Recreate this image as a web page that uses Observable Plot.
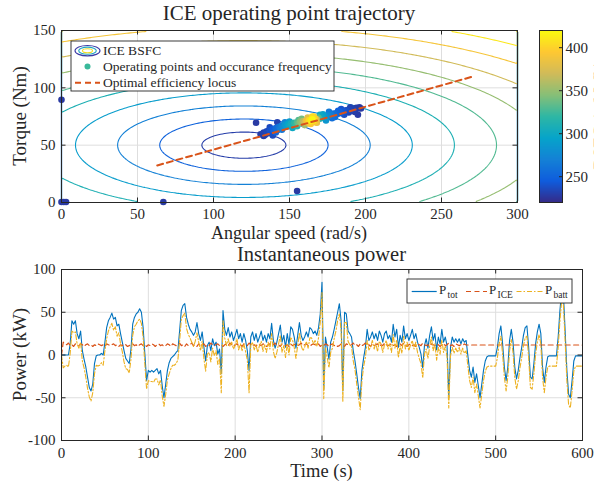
<!DOCTYPE html>
<html>
<head>
<meta charset="utf-8">
<script src="https://cdn.jsdelivr.net/npm/d3@7"></script>
<script src="https://cdn.jsdelivr.net/npm/@observablehq/plot@0.6"></script>
<style>
html, body { margin: 0; padding: 0; background: #fff; }
#wrap { position: relative; width: 594px; height: 487px; overflow: hidden; background: #fff; }
</style>
</head>
<body>
<div id="wrap"></div>
<script>
// ---------------- data ----------------
const speedTicks = [0, 50, 100, 150, 200, 250, 300];
const torqueTicks = [0, 50, 100, 150];
const cbarTicks = [250, 300, 350, 400];
const timeTicks = [0, 100, 200, 300, 400, 500, 600];
const powerTicks = [-100, -50, 0, 50, 100];

// parula colormap stops
const parula = ["#352a87", "#0f5cdd", "#1481d6", "#06a4ca", "#2eb7a4", "#87bf77", "#d1bb59", "#fec832", "#f9fb0e"];
const colorStops = [220, 245, 270, 295, 320, 345, 370, 395, 420];

const bsfcCenterSpeed = 120, bsfcCenterTorque = 50;
const bsfcMin = 210, bsfcStep = 20;
const bsfcSpeedRadius = 27.7, bsfcTorqueRadius = 11.4;
const bsfcLevels = [230, 250, 270, 290, 310, 330, 350, 370, 390, 410, 430];

// operating points (speed rad/s, torque Nm, occurrence colour value)
const opSpeed = [0, 0, 1.5, 3, 67, 155, 128, 142, 131, 133,
  134, 135, 136, 137, 138, 139, 140, 141, 142, 143,
  144, 145, 146, 147, 148, 149, 150, 151, 152, 153,
  154, 155, 156, 157, 158, 159, 160, 161, 162, 163,
  164, 165, 166, 167, 168, 169, 170, 171, 172, 173,
  174, 175, 176, 177, 178, 179, 180, 181, 182, 183,
  184, 185, 186, 187, 188, 189, 189, 190, 191, 192,
  193, 194, 195, 195, 196, 197, 145, 150, 155, 158,
  160, 162, 164, 166, 168, 170, 174, 176, 180, 184,
  139, 133, 137, 141, 147, 152, 156, 163, 165, 167,
  172, 178, 182, 186, 190, 193];
const opTorque = [89.5, 0.5, 0.5, 0.5, 0.5, 10, 69.5, 70, 59.5, 61,
  59, 62, 60.5, 63, 61, 64, 62.5, 65, 63, 66,
  64.5, 67, 65.5, 68, 66, 68.5, 67, 69, 67.5, 69.5,
  68, 70, 69, 70.5, 69.5, 71, 70, 71.5, 70.5, 72,
  71, 72.5, 71.5, 73, 72.5, 74, 73, 74.5, 74, 75.5,
  74.5, 76, 75.5, 77, 76, 77.5, 77, 78, 77.5, 79,
  78, 79.5, 79, 80.5, 79.5, 78.5, 81, 80, 81.5, 81,
  82, 82.5, 82, 76.5, 83, 82, 63.5, 70.5, 66.5, 73,
  67.5, 74, 68.5, 75, 69.5, 76.5, 71.5, 79, 74.5, 81.5,
  58.5, 58, 65.5, 61, 70, 65, 72, 69, 75, 70,
  77, 73.5, 80, 76.5, 83, 79];
const opFreq = [228, 228, 228, 228, 228, 228, 228, 232, 230, 232,
  230, 235, 234, 240, 238, 245, 250, 255, 258, 262,
  268, 272, 278, 285, 290, 295, 300, 305, 310, 318,
  322, 330, 338, 345, 352, 362, 372, 385, 395, 405,
  412, 418, 410, 395, 360, 330, 310, 300, 290, 285,
  280, 275, 270, 266, 262, 258, 255, 252, 250, 248,
  245, 242, 240, 238, 236, 232, 234, 233, 232, 231,
  230, 229, 229, 228, 228, 228, 262, 290, 315, 340,
  355, 380, 395, 400, 380, 300, 285, 265, 258, 240,
  236, 229, 236, 250, 272, 300, 330, 385, 405, 390,
  292, 258, 248, 238, 232, 229];

// optimal efficiency locus
const locusSpeed = [63, 271];
const locusTorque = [32.3, 110];

// instantaneous power, sampled every dt seconds (kW)
const dt = 2;
const pTot = [
  0, 0, 0, 0, 0, 13, 40, 36, 40, 25,
  19, 28, 5, -5, -14, -26, -38, -42, -34, -10,
  -1, 0, 0, 2, 0, 15, 32, 40, 44, 49,
  42, 44, 34, 36, 25, 15, 5, -4, -7, -10,
  7, 36, 44, 48, 50, 54, 50, 32, 1, -30,
  -18, -20, -18, -20, -18, -16, -22, -18, -36, -50,
  -34, -18, -9, -4, -2, 0, 3, 5, 28, 52,
  58, 60, 44, 36, 30, 27, 23, 27, 38, 25,
  17, 27, 9, -7, 11, 15, 5, 19, 11, 15,
  1, 7, -22, 52, 30, 23, 32, 21, 27, 17,
  23, 30, 19, 25, 15, 25, 17, 5, -18, 21,
  27, 17, 25, 15, 21, 28, 17, 23, 15, 25,
  19, 37, 17, 8, 15, 25, 35, 15, 23, 9,
  25, 12, 33, 30, 21, 8, 23, 38, 23, 17,
  21, 27, 21, 32, 30, 25, 28, 23, 32, 48,
  85, -40, 21, 9, -5, 15, 21, 30, 40, 50,
  60, 40, -42, 50, 48, 28, 25, 21, 5, -7,
  -22, -38, -51, -18, -3, 9, 30, 17, 21, 27,
  19, 25, 17, 28, 23, 15, 25, 28, 19, 23,
  15, 36, 21, 30, 9, 23, 15, 34, 19, 25,
  17, 23, 30, 19, 25, 15, 9, 1, -15, 11,
  19, 8, 23, 33, 17, 25, 6, 21, 13, 30,
  15, 21, 11, -50, 9, 21, 15, 19, 15, 19,
  13, 19, 15, 17, -1, -18, -26, -14, -32, -22,
  -36, -50, -34, -18, -7, -2, -1, -1, -1, -1,
  -1, 9, 25, 34, 13, -14, -30, -14, 17, 30,
  15, -14, -28, -18, -3, 9, 23, 32, 34, 9,
  -26, -28, -10, 13, 27, 36, 25, -14, -32, -14,
  -2, -1, -1, -1, -1, -1, 21, 52, 75, 71,
  28, -18, -46, -50, -30, -7, -1, -1, -1, -1,
  -1];
const pBatt = [
  0, -15, -13, -12, -14, 2, 28, 26, 27, 13,
  8, 15, -7, -15, -26, -39, -49, -54, -44, -22,
  -12, -13, -12, -9, -12, 5, 19, 28, 33, 37,
  29, 33, 22, 26, 13, 4, -8, -16, -17, -21,
  -5, 23, 33, 36, 40, 42, 37, 21, -11, -40,
  -30, -31, -31, -32, -28, -28, -35, -29, -48, -60,
  -46, -29, -22, -16, -12, -12, -10, -6, 16, 42,
  46, 49, 31, 24, 20, 15, 10, 16, 26, 15,
  5, 16, -4, -19, 1, 3, -8, 8, -1, 5,
  -11, -4, -44, 40, 20, 11, 19, 10, 15, 7,
  11, 19, 6, 13, 5, 13, 4, -6, -44, 11,
  15, 6, 12, 3, 11, 16, 4, 12, 3, 15,
  7, 25, 4, -4, 3, 13, 23, 3, 11, -3,
  13, 0, 20, 18, 9, -4, 11, 26, 11, 5,
  9, 16, 8, 20, 20, 13, 17, 10, 20, 38,
  73, -51, 8, -3, -15, 3, 8, 19, 28, 40,
  48, 29, -55, 38, 38, 16, 12, 10, -7, -17,
  -34, -49, -64, -30, -13, -3, 17, 6, 9, 17,
  7, 14, 4, 16, 13, 3, 12, 17, 7, 13,
  3, 24, 8, 18, -3, 11, 2, 22, 7, 15,
  5, 12, 17, 7, 15, 3, -4, -10, -27, 1,
  7, -4, 10, 21, 5, 13, -6, 9, 1, 18,
  3, 10, -2, -62, -1, 9, 2, 8, 3, 9,
  1, 8, 2, 5, -13, -30, -38, -26, -44, -34,
  -48, -62, -46, -30, -19, -14, -13, -13, -13, -13,
  -13, -3, 13, 22, 1, -26, -42, -26, 5, 18,
  3, -26, -40, -30, -15, -3, 11, 20, 22, -3,
  -38, -40, -22, 1, 15, 24, 13, -26, -44, -26,
  -14, -13, -13, -13, -13, -13, 9, 40, 63, 59,
  16, -30, -58, -62, -42, -19, -13, -13, -13, -13,
  -13];
// ICE power: jittery until 466 s, then held constant to 600 s
const iceTime = d3.range(0, 467, 2).concat([600]);
const pIce = [
  0, 15, 13, 12, 14, 11, 12, 10, 13, 12,
  11, 13, 12, 10, 12, 13, 11, 12, 10, 12,
  11, 13, 12, 11, 12, 10, 13, 12, 11, 12,
  13, 11, 12, 10, 12, 11, 13, 12, 10, 11,
  12, 13, 11, 12, 10, 12, 13, 11, 12, 10,
  12, 11, 13, 12, 10, 12, 13, 11, 12, 10,
  11, 13, 12, 10, 13, 12, 11, 12, 14, 11,
  12, 10, 13, 11, 12, 14, 11, 12, 10, 13,
  11, 12, 13, 10, 12, 11, 14, 12, 11, 12,
  13, 11, 12, 10, 12, 13, 11, 14, 12, 10,
  12, 13, 11, 12, 10, 13, 12, 11, 14, 12,
  11, 12, 10, 13, 12, 11, 13, 12, 10, 12,
  13, 11, 12, 14, 11, 12, 10, 13, 12, 11,
  12, 10, 13, 11, 12, 13, 11, 12, 14, 11,
  12, 13, 11, 10, 12, 13, 12, 11, 13, 10,
  12, 11, 13, 12, 10, 12, 13, 11, 12, 10,
  11, 13, 12, 10, 13, 12, 11, 12, 14, 11,
  12, 10, 13, 11, 12, 14, 11, 12, 10, 13,
  11, 12, 13, 10, 12, 11, 14, 12, 11, 12,
  13, 11, 12, 10, 12, 13, 11, 14, 12, 10,
  12, 13, 11, 12, 10, 13, 12, 11, 14, 12,
  11, 12, 10, 13, 12, 11, 13, 12, 10, 12,
  13, 11, 12, 14, 11, 12, 10, 13, 12, 11,
  12, 11, 13, 11.7,
  11.7];

// ---------------- styles ----------------
const FONT = "'Liberation Serif', 'Times New Roman', serif";
const AXIS = "#262626";
const GRID = "#dedede";
const colorOpts = {type: "linear", domain: colorStops, range: parula, clamp: true};
const bsfc = (x, y) => bsfcMin + bsfcStep * Math.hypot((x - bsfcCenterSpeed) / bsfcSpeedRadius, (y - bsfcCenterTorque) / bsfcTorqueRadius);
const baseStyle = {fontFamily: FONT, fontSize: "15px", color: AXIS, background: "transparent", overflow: "visible"};
const TICK = 4.5;

const wrap = document.getElementById("wrap");
function place(el, left, top) {
  el.style.position = "absolute";
  el.style.left = left + "px";
  el.style.top = top + "px";
  el.style.maxWidth = "none";
  wrap.appendChild(el);
}

// ---------------- top: operating point map ----------------
const topW = 594, topH = 240, tL = 61, tR = 77, tT = 30, tB = 38;
const tIW = topW - tL - tR, tIH = topH - tT - tB;
const ops = opSpeed.map((s, i) => ({s, t: opTorque[i], f: opFreq[i]})).sort((a, b) => a.f - b.f);
const locus = locusSpeed.map((s, i) => ({s, t: locusTorque[i]}));

const topPlot = Plot.plot({
  width: topW, height: topH,
  marginLeft: tL, marginRight: tR, marginTop: tT, marginBottom: tB,
  x: {domain: [0, 300]},
  y: {domain: [0, 150]},
  color: colorOpts,
  style: baseStyle,
  marks: [
    Plot.ruleX(speedTicks, {stroke: GRID}),
    Plot.ruleY(torqueTicks, {stroke: GRID}),
    Plot.contour({value: bsfc, x1: 0, y1: 0, x2: 300, y2: 150, thresholds: bsfcLevels, stroke: "value", fill: "none", strokeWidth: 1.1}),
    Plot.dot(ops, {x: "s", y: "t", fill: "f", r: 3.3}),
    Plot.line(locus, {x: "s", y: "t", stroke: "#D95319", strokeWidth: 2, strokeDasharray: "6,4"}),
    Plot.frame({stroke: AXIS}),
    Plot.ruleX(speedTicks, {stroke: AXIS, insetTop: tIH - TICK}),
    Plot.ruleX(speedTicks, {stroke: AXIS, insetBottom: tIH - TICK}),
    Plot.ruleY(torqueTicks, {stroke: AXIS, insetRight: tIW - TICK}),
    Plot.ruleY(torqueTicks, {stroke: AXIS, insetLeft: tIW - TICK}),
    Plot.axisX(speedTicks, {tickSize: 0, tickPadding: 6, label: null, tickFormat: d => String(d)}),
    Plot.axisY(torqueTicks, {tickSize: 0, tickPadding: 6, label: null, tickFormat: d => String(d)})
  ]
});
place(topPlot, 0, 0);

// ---------------- colorbar ----------------
const cbW = 74, cbL = 19, cbR = 32;
const cbar = Plot.plot({
  width: cbW, height: topH,
  marginLeft: cbL, marginRight: cbR, marginTop: tT, marginBottom: tB,
  x: {domain: [0, 1], axis: null},
  y: {domain: [220, 420]},
  color: colorOpts,
  style: baseStyle,
  marks: [
    Plot.raster({fill: (x, y) => y, x1: 0, x2: 1, y1: 220, y2: 420}),
    Plot.frame({stroke: AXIS}),
    Plot.ruleY(cbarTicks, {stroke: AXIS, insetLeft: cbW - cbL - cbR - 3}),
    Plot.axisY(cbarTicks, {anchor: "right", tickSize: 0, tickPadding: 3, label: null, tickFormat: d => String(d)})
  ]
});
place(cbar, 520, 0);

// ---------------- bottom: instantaneous power ----------------
const botW = 594, botH = 247, bL = 61, bR = 12, bT = 29, bB = 47;
const bIW = botW - bL - bR, bIH = botH - bT - bB;
const pw = pTot.map((v, i) => ({t: i * dt, tot: v, batt: pBatt[i]}));
const ice = pIce.map((v, i) => ({t: iceTime[i], p: v}));

const botPlot = Plot.plot({
  width: botW, height: botH,
  marginLeft: bL, marginRight: bR, marginTop: bT, marginBottom: bB,
  x: {domain: [0, 600]},
  y: {domain: [-100, 100]},
  style: baseStyle,
  marks: [
    Plot.ruleX(timeTicks, {stroke: GRID}),
    Plot.ruleY(powerTicks, {stroke: GRID}),
    Plot.line(pw, {x: "t", y: "tot", stroke: "#0072BD", strokeWidth: 1.1}),
    Plot.line(ice, {x: "t", y: "p", stroke: "#D95319", strokeWidth: 1.2, strokeDasharray: "5,3.5"}),
    Plot.line(pw, {x: "t", y: "batt", stroke: "#EDB120", strokeWidth: 1.1, strokeDasharray: "5,2,1.5,2"}),
    Plot.frame({stroke: AXIS}),
    Plot.ruleX(timeTicks, {stroke: AXIS, insetTop: bIH - TICK}),
    Plot.ruleX(timeTicks, {stroke: AXIS, insetBottom: bIH - TICK}),
    Plot.ruleY(powerTicks, {stroke: AXIS, insetRight: bIW - TICK}),
    Plot.ruleY(powerTicks, {stroke: AXIS, insetLeft: bIW - TICK}),
    Plot.axisX(timeTicks, {tickSize: 0, tickPadding: 7, label: null, tickFormat: d => String(d)}),
    Plot.axisY(powerTicks, {tickSize: 0, tickPadding: 6, label: null, tickFormat: d => String(d)})
  ]
});
place(botPlot, 0, 240);

// ---------------- text & legends overlay ----------------
const ov = d3.create("svg").attr("width", 594).attr("height", 487)
  .attr("font-family", FONT).attr("fill", AXIS)
  .style("pointer-events", "none").style("overflow", "hidden");
function addText(x, y, s, size, anchor = "middle", rot = 0) {
  return ov.append("text").attr("x", x).attr("y", y).attr("font-size", size)
    .attr("text-anchor", anchor)
    .attr("transform", rot ? `rotate(${rot} ${x} ${y})` : null)
    .text(s);
}
addText(289, 20, "ICE operating point trajectory", 21);
addText(289, 238.5, "Angular speed (rad/s)", 18);
addText(26, 116, "Torque (Nm)", 19, "middle", -90);
addText(321.5, 260.5, "Instantaneous power", 20.5);
addText(26, 354.5, "Power (kW)", 19, "middle", -90);
addText(321.5, 477, "Time (s)", 18.5);
addText(607, 115, "BSFC (g/kWh)", 18, "middle", -90);

// top legend
ov.append("rect").attr("x", 71).attr("y", 41).attr("width", 263).attr("height", 50)
  .attr("fill", "#fff").attr("stroke", AXIS).attr("stroke-width", 0.9);
[[12.5, 5.2, "#3b3aa6"], [8.8, 3.6, "#22a6c4"], [5, 2, "#f0dc22"]].forEach(([rx, ry, c]) => {
  ov.append("ellipse").attr("cx", 87.5).attr("cy", 50.7).attr("rx", rx).attr("ry", ry)
    .attr("fill", "none").attr("stroke", c).attr("stroke-width", 1.1);
});
ov.append("circle").attr("cx", 87.5).attr("cy", 66.5).attr("r", 3).attr("fill", "#3ab99a");
ov.append("line").attr("x1", 75).attr("x2", 100).attr("y1", 82.7).attr("y2", 82.7)
  .attr("stroke", "#D95319").attr("stroke-width", 2).attr("stroke-dasharray", "6,4");
addText(103, 55.3, "ICE BSFC", 13.5, "start");
addText(103, 71, "Operating points and occurance frequency", 13.5, "start");
addText(103, 87.3, "Optimal efficiency locus", 13.5, "start");

// bottom legend
ov.append("rect").attr("x", 407).attr("y", 279).attr("width", 165).attr("height", 24)
  .attr("fill", "#fff").attr("stroke", AXIS).attr("stroke-width", 0.9);
ov.append("line").attr("x1", 411.7).attr("x2", 436.7).attr("y1", 291.5).attr("y2", 291.5)
  .attr("stroke", "#0072BD").attr("stroke-width", 1.2);
ov.append("line").attr("x1", 466).attr("x2", 487).attr("y1", 291.5).attr("y2", 291.5)
  .attr("stroke", "#D95319").attr("stroke-width", 1.2).attr("stroke-dasharray", "5,3.5");
ov.append("line").attr("x1", 516.5).attr("x2", 543).attr("y1", 291.5).attr("y2", 291.5)
  .attr("stroke", "#EDB120").attr("stroke-width", 1.2).attr("stroke-dasharray", "5,2,1.5,2");
addText(439, 293.5, "P", 13, "start");
addText(447.5, 297.5, "tot", 9.5, "start");
addText(489, 293.5, "P", 13, "start");
addText(497.5, 297.5, "ICE", 9.5, "start");
addText(545, 293.5, "P", 13, "start");
addText(553.5, 297.5, "batt", 9.5, "start");

place(ov.node(), 0, 0);
</script>
</body>
</html>
